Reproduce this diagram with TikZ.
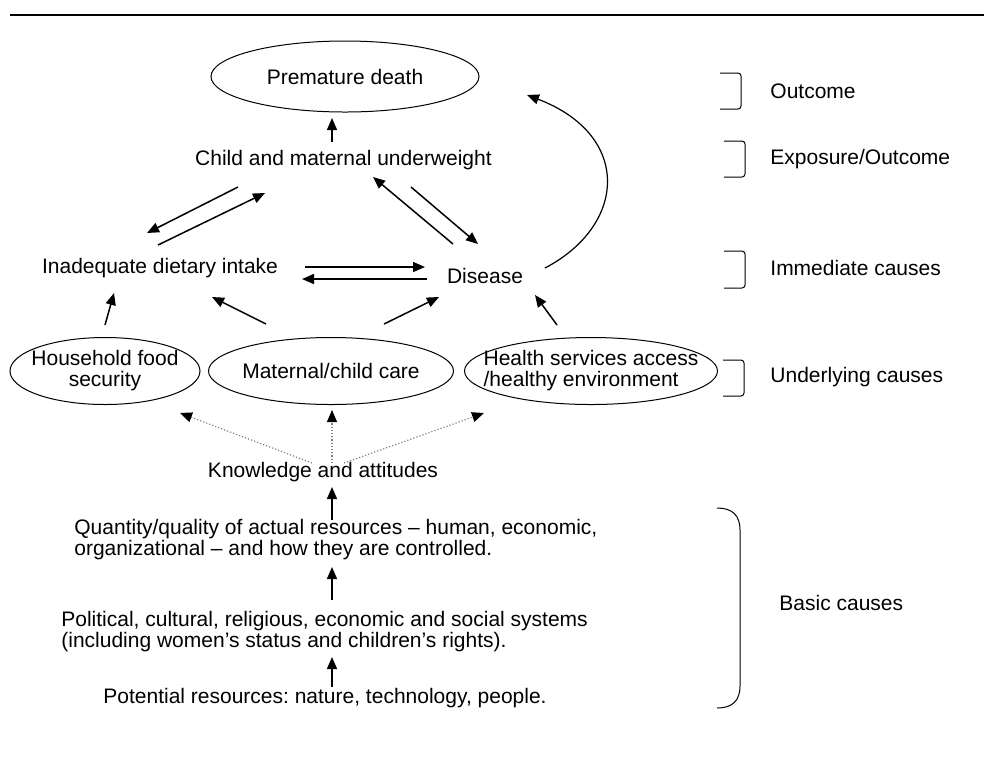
\documentclass[tikz,border=0pt]{standalone}
\usepackage{fontspec}
\setmainfont{Liberation Sans}
\usetikzlibrary{shapes.geometric,arrows.meta}
\frenchspacing

\begin{document}
\begin{tikzpicture}[
    x=0.5pt, y=-0.5pt,
    txt/.style={inner sep=0pt, font=\fontsize{10.5}{10.5}\selectfont},
    lbl/.style={txt, anchor=west},
    oval/.style={ellipse, draw, line width=0.5pt, inner xsep=-12pt, inner ysep=0pt, align=center, font=\fontsize{10.5}{10.5}\selectfont},
    arr/.style={-{Triangle[length=6pt,width=5pt]}, line width=0.75pt},
    dotarr/.style={-{Triangle[length=6pt,width=5pt,black]}, densely dotted, draw=gray, line width=0.6pt},
    brk/.style={line width=0.5pt, rounded corners=1.5pt}
]
    \useasboundingbox (0,0) rectangle (984,757);
    \draw[line width=1.2pt] (10,15) -- (984,15);

    \node[oval, minimum width=134pt, minimum height=35.5pt] (death) at (345,76.5) {Premature death};
    \node[txt] (under) at (343.5,160) {Child and maternal underweight};
    \node[txt] (intake) at (160,268) {Inadequate dietary intake};
    \node[txt] (disease) at (485,276) {Disease};
    \node[oval, minimum width=95pt, minimum height=33.5pt] (food) at (105,371) {Household food\\security};
    \node[oval, minimum width=122.5pt, minimum height=33.5pt] (care) at (331,371) {Maternal/child care};
    \node[oval, minimum width=126.5pt, minimum height=33.5pt, align=left] (health) at (591,371) {Health services access\\/healthy environment};
    \node[txt] (know) at (323,472) {Knowledge and attitudes};
    \node[txt, anchor=west, align=left] (actual) at (74,540) {Quantity/quality of actual resources -- human, economic,\\organizational -- and how they are controlled.};
    \node[txt, anchor=west, align=left] (systems) at (61,632) {Political, cultural, religious, economic and social systems\\(including women's status and children's rights).};
    \node[txt] (potential) at (325,698) {Potential resources: nature, technology, people.};

    \node[lbl] (outcome) at (770,91) {Outcome};
    \node[lbl] (exposure) at (770,159) {Exposure/Outcome};
    \node[lbl] (immediate) at (770,268) {Immediate causes};
    \node[lbl] (underlying) at (770,377) {Underlying causes};
    \node[lbl] (basic) at (779,603) {Basic causes};

    \draw[brk] (720,73) -- (741,73) -- (741,109) -- (720,109);
    \draw[brk] (724,141) -- (745,141) -- (745,177) -- (724,177);
    \draw[brk] (724,251) -- (745,251) -- (745,288) -- (724,288);
    \draw[brk] (723,360) -- (744,360) -- (744,396) -- (723,396);
    \draw[line width=0.5pt] (717,508) .. controls (732,508) and (740,515) .. (740,530) -- (740,686) .. controls (740,701) and (732,708) .. (717,708);

    \draw[arr] ([shift={(-11.5,-18)}]under.center) -- ([shift={(-13,41.5)}]death.center);
    \draw[arr] ([shift={(-105.5,27)}]under.center) -- ([shift={(-13,-35)}]intake.center);
    \draw[arr] ([shift={(-2,-23)}]intake.center) -- ([shift={(-78.5,33)}]under.center);
    \draw[arr] ([shift={(-32,-32)}]disease.center) -- ([shift={(29.5,17)}]under.center);
    \draw[arr] ([shift={(67.5,27)}]under.center) -- ([shift={(-7,-32)}]disease.center);
    \draw[arr] ([shift={(145,-1)}]intake.center) -- ([shift={(-60,-9)}]disease.center);
    \draw[arr] ([shift={(-58,3)}]disease.center) -- ([shift={(142,11)}]intake.center);
    \draw[arr, line width=0.6pt] ([shift={(60,-8)}]disease.center) .. controls +(82,-43) and +(105,40) .. ([shift={(182,18.5)}]death.center);

    \draw[arr] ([shift={(0,-46)}]food.center) -- ([shift={(-46,25)}]intake.center);
    \draw[arr] ([shift={(-65,-47)}]care.center) -- ([shift={(52,29)}]intake.center);
    \draw[arr] ([shift={(53,-47)}]care.center) -- ([shift={(-46,21)}]disease.center);
    \draw[arr] ([shift={(-34,-46)}]health.center) -- ([shift={(50,19)}]disease.center);

    \draw[dotarr] ([shift={(-11,-9)}]know.center) -- ([shift={(75,42)}]food.center);
    \draw[dotarr] ([shift={(9,-9)}]know.center) -- ([shift={(1,39)}]care.center);
    \draw[dotarr] ([shift={(21,-9)}]know.center) -- ([shift={(-107,42)}]health.center);

    \draw[arr] ([shift={(258,-20)}]actual.west) -- ([shift={(9,15)}]know.center);
    \draw[arr] ([shift={(271,-32)}]systems.west) -- ([shift={(258,27)}]actual.west);
    \draw[arr] ([shift={(7,-11)}]potential.center) -- ([shift={(271,25)}]systems.west);
\end{tikzpicture}
\end{document}
